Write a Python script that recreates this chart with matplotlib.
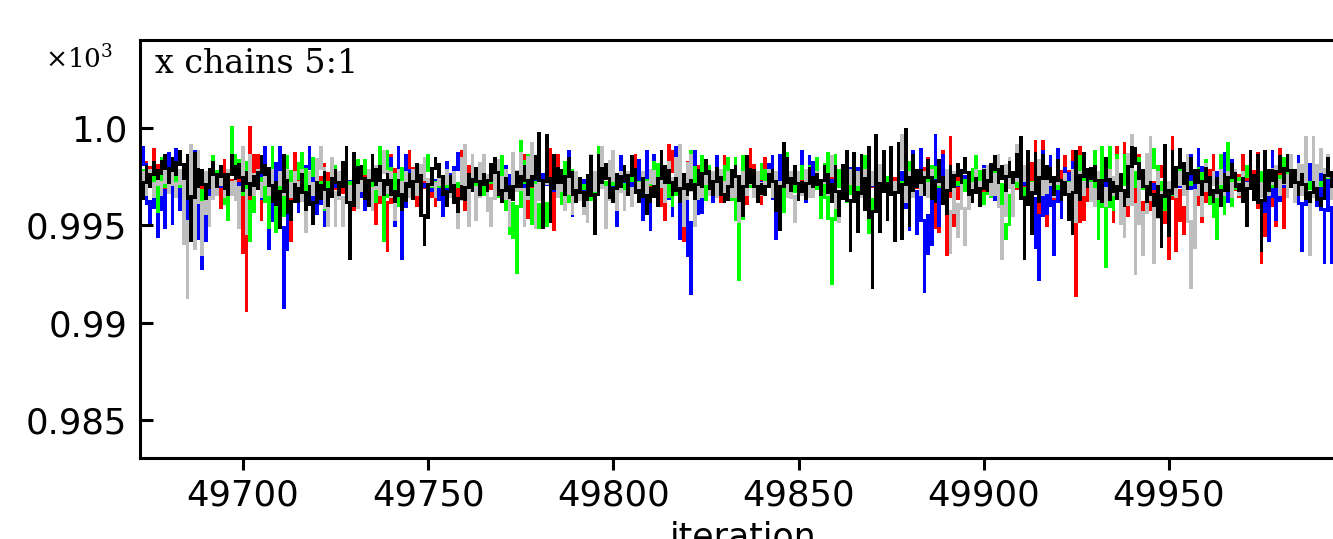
import numpy as np
import matplotlib
matplotlib.use("Agg")
import matplotlib.pyplot as plt

plt.rcParams['mathtext.fontset'] = 'dejavuserif'

# trace values for the last iterations.
# stored as k where value = 0.99 + k*1e-4 (axis is shown x10^3)
first_iter = 49673

red_chain = [
    90, 74, 70, 89, 72, 68, 71, 75, 69, 72, 66, 73, 70, 76, 68, 72, 67, 74, 70, 72,
    75, 59, 83, 70, 73, 68, 75, 66, 6, 100, 72, 86, 53, 71, 74, 69, 73, 67, 72, 75,
    42, 87, 70, 73, 68, 71,
    70, 74, 68, 81, 70, 83, 69, 73, 67, 72, 70, 58, 83, 71, 81, 68, 73, 51, 72, 70,
    37, 86, 71, 74, 68, 72, 88, 70, 60, 66, 73, 86, 70, 60, 72, 69, 74, 67, 71, 55,
    88, 58, 80, 70, 73, 68,
    71, 74, 69, 72, 67, 73, 70, 75, 68, 72, 70, 86, 54, 85, 64, 82, 60, 85, 89, 48,
    86, 66, 73, 69, 74, 68, 72, 70, 73, 67, 72, 69, 74, 70, 67, 73, 71, 68, 74, 70,
    72, 86, 69, 73, 68, 71,
    71, 74, 67, 53, 91, 85, 70, 73, 42, 82, 76, 70, 80, 58, 72, 69, 74, 70, 62, 85,
    77, 71, 66, 73, 70, 61, 89, 72, 69, 61, 84, 71, 74, 66, 72, 70, 73, 68, 72, 70,
    74, 69, 72, 80, 70, 73,
    70, 71, 74, 68, 72, 70, 62, 73, 85, 70, 72, 68, 74, 70, 72, 67, 73, 69, 71, 74,
    68, 72, 70, 73, 67, 72, 70, 74, 84, 70, 51, 47, 88, 35, 95, 50, 78, 70, 73, 68,
    78, 70, 72, 68, 74, 70,
    71, 73, 68, 72, 70, 74, 69, 72, 67, 73, 70, 93, 56, 93, 50, 72, 62, 74, 70, 85,
    67, 88, 14, 90, 53, 72, 69, 74, 70, 72, 68, 73, 52, 90, 51, 92, 55, 90, 57, 86,
    37, 86, 58, 71, 73, 80,
    70, 33, 95, 37, 68, 46, 72, 70, 74, 69, 52, 72, 70, 86, 66, 72, 69, 74, 70, 72,
    65, 86, 70, 73, 68, 87, 31, 58, 75, 70, 50, 89, 49, 86, 70, 73, 68, 72, 70, 74,
    69, 72, 60, 71, 58, 73, 69,
]

blue_chain = [
    90, 72, 50, 74, 44, 72, 49, 87, 51, 89, 58, 72, 53, 73, 88, 58, 28, 56, 72, 69,
    74, 70, 72, 76, 68, 72, 70, 73, 69, 72, 70, 74, 64, 90, 38, 67, 73, 90, 8, 67,
    72, 70, 57, 73, 70, 90,
    68, 56, 72, 50, 68, 73, 70, 76, 71, 76, 69, 73, 70, 72, 58, 73, 70, 72, 66, 73,
    70, 84, 50, 90, 33, 86, 70, 73, 69, 72, 70, 72, 68, 73, 71, 55, 82, 70, 72, 87,
    70, 69, 73, 71, 70, 73,
    72, 70, 77, 71, 78, 62, 80, 71, 73, 70, 77, 70, 76, 71, 73, 70, 76, 71, 72, 68,
    73, 71, 60, 88, 55, 77, 71, 73, 61, 72, 70, 73, 71, 69, 63, 88, 50, 85, 71, 73,
    70, 72, 83, 53, 88, 48,
    86, 72, 70, 71, 73, 55, 90, 43, 72, 54, 15, 88, 56, 57, 72, 70, 62, 85, 67, 72,
    70, 73, 69, 72, 70, 73, 71, 78, 70, 72, 69, 77, 85, 43, 86, 70, 72, 69, 74, 63,
    88, 62, 85, 79, 70, 72,
    72, 70, 73, 71, 70, 73, 69, 79, 70, 79, 70, 74, 69, 72, 70, 73, 71, 69, 72, 70,
    73, 77, 70, 48, 88, 46, 89, 16, 55, 40, 96, 50, 86, 70, 73, 69, 72, 70, 75, 71,
    69, 73, 70, 80, 71, 79,
    63, 66, 61, 72, 78, 70, 72, 69, 73, 70, 72, 55, 22, 88, 56, 85, 35, 89, 54, 79,
    71, 82, 70, 72, 69, 73, 70, 82, 71, 72, 70, 73, 69, 72, 70, 73, 71, 69, 72, 71,
    73, 70, 72, 69, 73, 70,
    72, 70, 73, 71, 70, 72, 70, 86, 52, 89, 70, 73, 70, 72, 77, 63, 87, 62, 83, 72,
    70, 73, 71, 69, 72, 70, 66, 72, 42, 88, 53, 72, 70, 73, 80, 63, 85, 37, 84, 72,
    90, 60, 85, 31, 84, 31, 87,
]

green_chain = [
    78, 70, 73, 82, 57, 84, 70, 72, 77, 72, 70, 73, 69, 72, 70, 73, 63, 72, 70, 85,
    70, 73, 69, 53, 100, 72, 83, 66, 82, 42, 72, 70, 73, 75, 49, 90, 47, 72, 55, 85,
    70, 72, 76, 87, 70, 67,
    84, 70, 72, 58, 72, 70, 80, 70, 80, 70, 71, 73, 83, 70, 83, 70, 72, 62, 90, 42,
    88, 70, 76, 60, 79, 70, 72, 69, 73, 70, 80, 86, 70, 72, 70, 74, 71, 69, 72, 70,
    73, 69, 72, 70, 71, 72,
    66, 73, 72, 74, 65, 85, 70, 46, 61, 26, 93, 72, 86, 51, 72, 49, 72, 50, 67, 76,
    70, 61, 82, 62, 78, 70, 72, 69, 70, 73, 53, 90, 70, 72, 69, 73, 70, 72, 69, 73,
    76, 70, 72, 69, 73, 71,
    82, 80, 71, 73, 70, 60, 72, 79, 70, 72, 88, 71, 68, 85, 63, 80, 70, 72, 70, 76,
    84, 63, 84, 22, 85, 78, 70, 72, 67, 81, 75, 71, 73, 70, 72, 57, 87, 66, 69, 72,
    80, 68, 80, 65, 84, 54,
    75, 87, 20, 86, 70, 72, 62, 71, 73, 67, 71, 85, 58, 35, 91, 58, 83, 66, 72, 70,
    73, 71, 70, 82, 71, 75, 70, 67, 72, 80, 79, 70, 72, 69, 73, 70, 72, 70, 73, 63,
    72, 85, 70, 61, 72, 65,
    72, 86, 56, 43, 58, 72, 70, 73, 65, 72, 71, 73, 75, 70, 79, 71, 72, 69, 73, 70,
    72, 70, 66, 85, 70, 72, 69, 88, 43, 90, 29, 90, 58, 86, 56, 86, 68, 84, 70, 84,
    69, 86, 70, 89, 71, 72,
    58, 69, 67, 65, 78, 70, 72, 71, 73, 79, 70, 83, 61, 66, 43, 86, 56, 92, 60, 78,
    70, 72, 80, 70, 72, 69, 77, 70, 72, 70, 80, 66, 84, 70, 72, 69, 73, 70, 72, 69,
    75, 70, 72, 69, 80, 70, 72,
]

black_chain = [
    64, 80, 70, 82, 74, 79, 86, 72, 84, 76, 88, 74, 86, 42, 87, 70, 78, 64, 75, 82,
    70, 80, 72, 66, 86, 74, 81, 68, 77, 66, 75, 69, 85, 76, 79, 62, 72, 49, 86, 60,
    53, 71, 62, 76, 58, 70,
    51, 72, 64, 77, 60, 70, 78, 66, 74, 90, 33, 87, 72, 80, 68, 60, 86, 71, 80, 66,
    76, 70, 62, 73, 58, 67, 76, 64, 81, 70, 40, 68, 74, 84, 78, 72, 60, 75, 66, 57,
    70, 63, 76, 68, 79, 66,
    76, 68, 78, 84, 70, 62, 74, 66, 63, 77, 70, 80, 66, 75, 74, 97, 49, 96, 52, 86,
    72, 78, 66, 84, 70, 62, 74, 60, 66, 85, 46, 86, 72, 81, 67, 62, 76, 70, 80, 66,
    85, 72, 62, 74, 56, 68,
    70, 60, 88, 72, 78, 66, 74, 62, 76, 66, 73, 64, 78, 70, 83, 72, 66, 79, 70, 62,
    64, 76, 80, 70, 55, 85, 72, 78, 62, 71, 66, 74, 78, 67, 48, 92, 76, 68, 80, 63,
    72, 64, 79, 70, 76, 66,
    80, 72, 62, 80, 55, 73, 88, 37, 87, 47, 86, 58, 90, 18, 96, 47, 88, 53, 90, 42,
    92, 43, 99, 50, 86, 70, 78, 66, 83, 66, 62, 83, 66, 56, 80, 70, 81, 72, 84, 70,
    62, 74, 60, 78, 68, 77,
    85, 72, 80, 68, 82, 72, 78, 95, 33, 88, 46, 87, 62, 86, 74, 79, 66, 83, 63, 72,
    60, 46, 88, 63, 87, 70, 78, 80, 66, 62, 84, 63, 72, 64, 76, 60, 70, 90, 89, 74,
    78, 62, 72, 60, 70, 39,
    91, 45, 88, 70, 89, 74, 69, 84, 72, 78, 66, 79, 70, 62, 74, 60, 76, 68, 81, 72,
    68, 74, 50, 88, 63, 86, 37, 88, 68, 78, 70, 85, 72, 86, 70, 78, 66, 76, 66, 62,
    72, 66, 60, 67, 84, 70, 76,
]

gray_chain = [
    77, 66, 78, 65, 77, 66, 78, 67, 77, 65, 78, 68, 13, 91, 38, 88, 35, 77, 50, 78,
    66, 77, 65, 78, 66, 77, 49, 90, 46, 86, 66, 78, 65, 77, 66, 78, 65, 77, 66, 78,
    65, 77, 66, 78, 47, 77,
    66, 77, 90, 68, 50, 84, 50, 77, 50, 78, 54, 86, 59, 77, 65, 78, 58, 80, 66, 88,
    67, 77, 53, 78, 66, 77, 65, 78, 66, 77, 84, 63, 78, 65, 77, 66, 78, 65, 77, 49,
    77, 91, 50, 86, 53, 77,
    86, 65, 50, 77, 83, 66, 78, 50, 87, 68, 87, 50, 77, 92, 49, 77, 65, 78, 66, 77,
    65, 78, 58, 77, 56, 77, 66, 60, 52, 86, 68, 77, 90, 49, 77, 88, 58, 77, 58, 77,
    60, 78, 65, 77, 66, 78,
    77, 66, 78, 62, 82, 66, 77, 91, 50, 77, 86, 50, 77, 65, 78, 66, 77, 65, 78, 66,
    77, 65, 78, 52, 77, 66, 78, 65, 77, 66, 66, 78, 65, 77, 66, 78, 65, 77, 52, 77,
    66, 78, 65, 65, 77, 66,
    78, 66, 85, 66, 52, 77, 65, 78, 66, 77, 65, 78, 66, 77, 65, 78, 83, 58, 77, 66,
    78, 96, 62, 77, 65, 78, 66, 77, 65, 78, 66, 77, 65, 78, 36, 77, 44, 77, 40, 77,
    65, 78, 66, 77, 80, 66,
    66, 86, 33, 77, 84, 55, 91, 66, 80, 72, 66, 77, 83, 66, 68, 77, 65, 78, 66, 76,
    65, 78, 52, 77, 66, 78, 65, 60, 77, 66, 60, 78, 66, 83, 58, 44, 77, 96, 25, 77,
    35, 78, 95, 31, 77, 57,
    77, 66, 78, 65, 77, 66, 86, 18, 59, 77, 55, 81, 66, 77, 65, 78, 66, 77, 65, 78,
    66, 77, 65, 78, 66, 77, 65, 78, 66, 77, 80, 66, 78, 65, 86, 62, 81, 66, 95, 35,
    95, 66, 89, 68, 86, 64, 77,
]

# drawing order: first one ends up at the bottom
chains = [
    (red_chain, '#ff0000'),
    (blue_chain, '#0000ff'),
    (green_chain, '#00ff00'),
    (gray_chain, '#bebebe'),
    (black_chain, '#000000'),
]

y_ticks = [0.985, 0.99, 0.995, 1.0]
y_tick_labels = ['0.985', '0.99', '0.995', '1.0']
x_ticks = [49700, 49750, 49800, 49850, 49900, 49950]


def to_value(k):
    return 0.99 + np.asarray(k, dtype=float) * 1e-4


def draw_trace(ax, vals, color, pad=0.8e-4):
    # each iteration is one thin column, like a trace line drawn at low resolution
    v = to_value(vals)
    mid = (v[:-1] + v[1:]) / 2
    left = np.r_[v[0], mid]
    right = np.r_[mid, v[-1]]
    lo = np.minimum(np.minimum(left, right), v) - pad
    hi = np.maximum(np.maximum(left, right), v) + pad
    x = first_iter + np.arange(len(v))
    ax.bar(x, hi - lo, bottom=lo, width=1.0, color=color, linewidth=0)


fig = plt.figure(figsize=(13.33, 5.39), dpi=100)
ax = fig.add_axes([0.1050, 0.1503, 0.905, 0.7755])

for vals, color in chains:
    draw_trace(ax, vals, color)

ax.set_xlim(49672.2, 49997.9)
ax.set_ylim(0.98305, 1.00451)
ax.set_xticks(x_ticks)
ax.set_yticks(y_ticks)
ax.set_yticklabels(y_tick_labels)

for side in ['left', 'top', 'bottom', 'right']:
    ax.spines[side].set_linewidth(2.2)

ax.tick_params(axis='y', direction='in', length=9.4, width=2.2, pad=9, labelsize=25.5)
ax.tick_params(axis='x', direction='out', length=8.6, width=2.2, pad=6, labelsize=25.5)
ax.set_xlabel('iteration', fontsize=25, labelpad=6)

ax.text(0.0124, 0.921, 'x chains 5:1', transform=ax.transAxes,
        fontsize=24, family='DejaVu Serif', va='baseline')
fig.text(0.0338, 0.874, r'$\times10^3$', fontsize=19, va='baseline')

fig.savefig('out.png', dpi=100)
